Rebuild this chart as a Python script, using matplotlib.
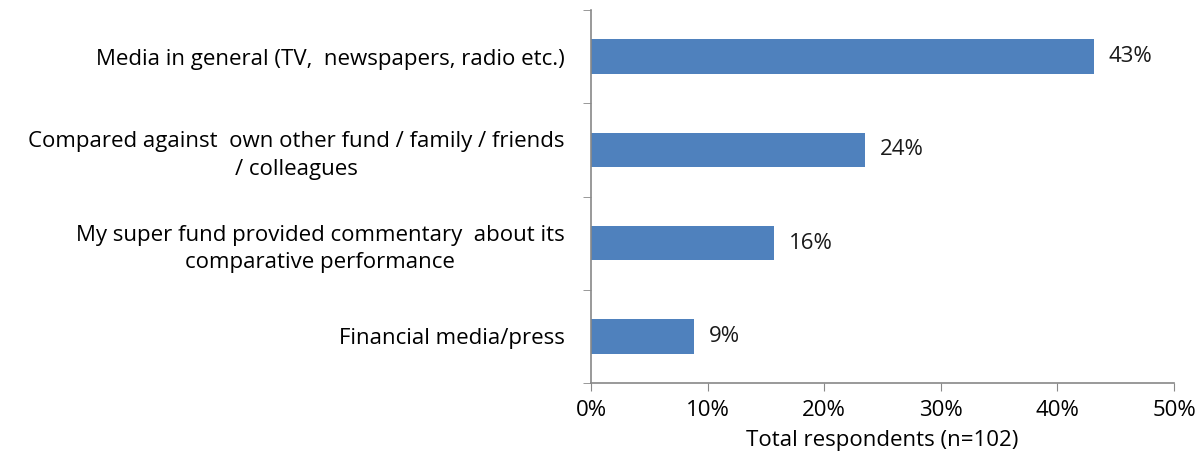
import matplotlib
matplotlib.use("Agg")
import matplotlib.pyplot as plt
import numpy as np

categories = [
    "Media in general (TV,  newspapers, radio etc.)",
    "Compared against  own other fund / family / friends\n/ colleagues",
    "My super fund provided commentary  about its\ncomparative performance",
    "Financial media/press",
]
values = [43.1, 23.5, 15.7, 8.8]
value_labels = ["43%", "24%", "16%", "9%"]
xticks = [0, 10, 20, 30, 40, 50]
xtick_labels = ["0%", "10%", "20%", "30%", "40%", "50%"]
xlabel = "Total respondents (n=102)"

plt.rcParams['font.family'] = ['Open Sans', 'DejaVu Sans']
FS = 16
fig = plt.figure(figsize=(12.03, 4.59), dpi=100)
ax = fig.add_axes([591/1203, 1-383/459, (1174-591)/1203, (383-10)/459])

n = len(categories)
y = np.arange(n)[::-1]
bar_color = "#4F81BD"
ax.barh(y, values, height=0.37, color=bar_color)
for yi, v, lab in zip(y, values, value_labels):
    ax.annotate(lab, (v, yi), xytext=(11, 0), textcoords="offset points",
                va="center", ha="left", fontsize=FS, color="#1a1a1a")

ax.set_xlim(0, 50)
ax.set_ylim(-0.5, n - 0.5)
ax.set_xticks(xticks)
ax.set_xticklabels(xtick_labels, fontsize=FS)
ax.set_yticks(y)
ax.set_yticklabels(categories, fontsize=FS, linespacing=1.4)
for lbl in ax.get_yticklabels():
    lbl.set_multialignment('center')
ax.set_yticks(np.arange(-0.5, n, 1.0), minor=True)
ax.tick_params(axis='y', which='major', length=0, pad=19)
ax.tick_params(axis='y', which='minor', length=6, color="#888888")
ax.tick_params(axis='x', length=6, color="#888888", pad=6)
ax.set_xlabel(xlabel, fontsize=FS, labelpad=7)

for s in ["top", "right"]:
    ax.spines[s].set_visible(False)
for s in ["left", "bottom"]:
    ax.spines[s].set_color("#888888")
    ax.spines[s].set_linewidth(1.2)

fig.savefig("out.png", dpi=100, facecolor="white")
